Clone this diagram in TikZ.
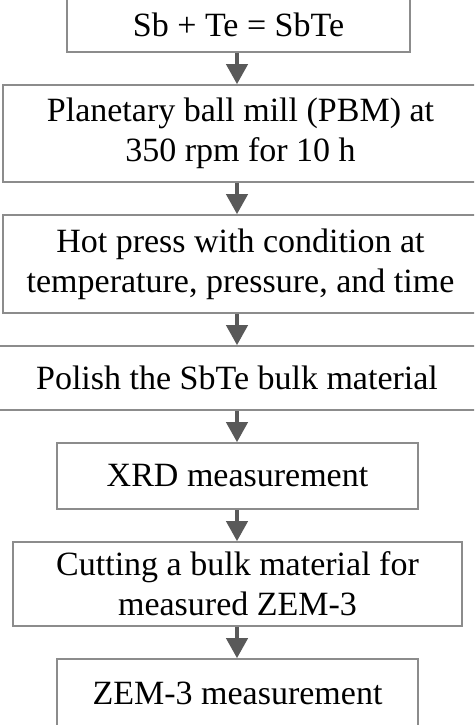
\documentclass[tikz,border=0pt]{standalone}
\usepackage{fontspec}
\setmainfont{Liberation Serif}
\usetikzlibrary{arrows.meta}

\tikzset{
	stepbox/.style={draw=black!45, line width=1.6pt, inner sep=0pt, align=center,
		font=\fontsize{34}{40}\selectfont},
	flow/.style={draw=black!65, line width=4pt, -{Triangle[width=21pt,length=20pt]}}
}

\begin{document}
\begin{tikzpicture}[x=1pt,y=-1pt]
	\useasboundingbox (0,0) rectangle (474,725);
	\clip (0,0) rectangle (474,725);
	\node[stepbox, minimum width=343, minimum height=54] (b1) at (238.5,25) {Sb + Te = SbTe};
	\node[stepbox, minimum width=475, minimum height=97] (b2) at (240.5,133.5) {Planetary ball mill (PBM) at\\350 rpm for 10 h};
	\node[stepbox, minimum width=475, minimum height=98] (b3) at (240.5,264) {Hot press with condition at\\temperature, pressure, and time};
	\node[stepbox, minimum width=486, minimum height=64] (b4) at (237,378) {Polish the SbTe bulk material};
	\node[stepbox, minimum width=361, minimum height=66] (b5) at (237.5,476) {XRD measurement};
	\node[stepbox, minimum width=449, minimum height=84] (b6) at (237.5,584) {Cutting a bulk material for\\measured ZEM-3};
	\node[stepbox, minimum width=361, minimum height=68] (b7) at (237.5,693) {ZEM-3 measurement};
	\foreach \a/\b in {b1/b2,b2/b3,b3/b4,b4/b5,b5/b6,b6/b7}{
		\draw[flow] (\a.south -| b4) -- (\b.north -| b4);
	}
\end{tikzpicture}
\end{document}
